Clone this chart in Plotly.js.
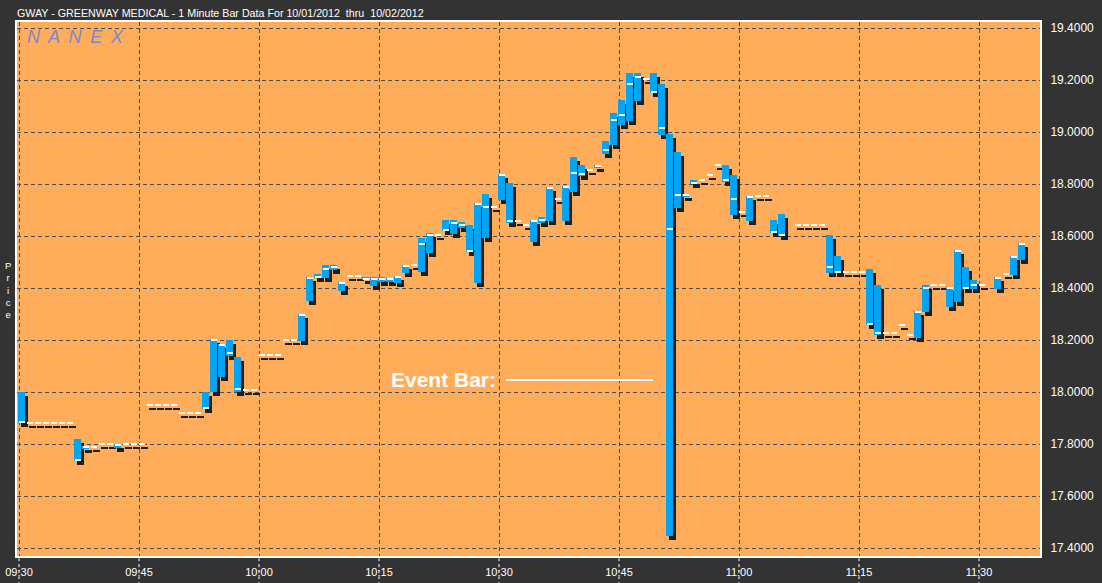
<!DOCTYPE html>
<html>
<head>
<meta charset="utf-8">
<script src="https://cdn.plot.ly/plotly-3.0.1.min.js"></script>
<style>html,body{margin:0;padding:0;background:#333333;}#chart{width:1102px;height:583px;}</style>
</head>
<body>
<div id="chart"></div>
<script>
// ---- Data (minutes after 09:30, 1-minute bars) ----
const minutes = [0,1,2,3,4,5,6,7,8,9,10,11,12,13,14,15,16,17,18,19,20,21,22,23,24,25,26,27,28,29,
  30,31,32,33,34,35,36,37,38,39,40,41,42,43,44,45,46,47,48,49,50,51,52,53,54,55,56,57,58,59,
  60,61,62,63,64,65,66,67,68,69,70,71,72,73,74,75,76,77,78,79,80,81,82,83,84,85,86,87,88,89,
  90,91,92,93,94,95,97,98,99,100,101,102,103,104,105,106,107,108,109,110,111,112,113,114,115,116,117,118,119,120,
  122,123,124,125];
const highs = [18.00,17.88,17.88,17.88,17.88,17.88,17.88,17.82,17.795,17.79,17.80,17.80,17.80,17.80,17.80,17.80,17.95,17.95,17.95,17.95,17.92,17.92,17.92,18.00,18.205,18.185,18.20,18.135,18.01,18.01,
  18.145,18.145,18.145,18.20,18.20,18.30,18.445,18.455,18.49,18.49,18.425,18.448,18.448,18.443,18.443,18.443,18.44,18.447,18.49,18.49,18.593,18.613,18.606,18.663,18.663,18.655,18.643,18.727,18.763,18.713,
  18.838,18.805,18.657,18.644,18.663,18.674,18.789,18.744,18.794,18.905,18.874,18.856,18.875,18.967,19.074,19.124,19.228,19.228,19.206,19.228,19.186,18.993,18.924,18.763,18.816,18.817,18.837,18.875,18.874,18.836,
  18.694,18.756,18.756,18.756,18.663,18.686,18.644,18.644,18.644,18.644,18.605,18.524,18.463,18.463,18.463,18.474,18.413,18.229,18.229,18.26,18.221,18.313,18.413,18.413,18.413,18.405,18.547,18.482,18.432,18.413,
  18.444,18.456,18.525,18.575];
const lows = [17.88,17.88,17.88,17.88,17.88,17.88,17.88,17.735,17.78,17.79,17.80,17.80,17.785,17.80,17.80,17.80,17.95,17.95,17.95,17.95,17.92,17.92,17.92,17.935,18.00,18.06,18.14,18.00,18.01,18.01,
  18.145,18.145,18.145,18.20,18.20,18.197,18.35,18.44,18.44,18.47,18.39,18.448,18.448,18.43,18.41,18.424,18.424,18.42,18.46,18.49,18.464,18.536,18.606,18.62,18.609,18.632,18.541,18.42,18.593,18.713,
  18.74,18.651,18.657,18.644,18.578,18.651,18.659,18.744,18.659,18.77,18.832,18.856,18.862,18.917,18.951,19.028,19.043,19.12,19.206,19.151,18.99,17.448,18.709,18.751,18.801,18.817,18.837,18.875,18.81,18.682,
  18.694,18.659,18.756,18.756,18.613,18.602,18.644,18.644,18.644,18.644,18.459,18.459,18.463,18.463,18.463,18.259,18.22,18.229,18.229,18.26,18.221,18.209,18.309,18.413,18.413,18.328,18.347,18.398,18.398,18.413,
  18.398,18.456,18.451,18.509];
const closes = [17.88,17.88,17.88,17.88,17.88,17.88,17.88,17.74,17.795,17.79,17.80,17.80,17.80,17.80,17.80,17.80,17.95,17.95,17.95,17.95,17.92,17.92,17.92,17.94,18.20,18.185,18.15,18.013,18.01,18.01,
  18.145,18.145,18.145,18.20,18.20,18.30,18.445,18.445,18.475,18.48,18.425,18.448,18.448,18.435,18.434,18.434,18.434,18.447,18.49,18.49,18.571,18.606,18.606,18.625,18.649,18.645,18.544,18.727,18.713,18.713,
  18.838,18.657,18.657,18.644,18.663,18.663,18.789,18.744,18.794,18.844,18.838,18.856,18.875,18.933,19.048,19.067,19.187,19.213,19.206,19.156,19.017,18.628,18.76,18.76,18.806,18.817,18.837,18.875,18.817,18.744,
  18.694,18.756,18.756,18.756,18.617,18.606,18.644,18.644,18.644,18.644,18.481,18.463,18.463,18.463,18.463,18.263,18.229,18.229,18.229,18.26,18.221,18.313,18.402,18.413,18.413,18.402,18.544,18.402,18.413,18.413,
  18.444,18.456,18.525,18.575];
const eventMinute = 81;
const tickMinutes = [0,15,30,45,60,75,90,105,120];
const tickLabels = ['09:30','09:45','10:00','10:15','10:30','10:45','11:00','11:15','11:30'];
const priceTicks = [17.4,17.6,17.8,18.0,18.2,18.4,18.6,18.8,19.0,19.2,19.4];

// ---- Geometry helpers (pixel sizes converted to axis units) ----
const PX_X = 1/8;      // minutes per pixel
const PX_Y = 1/260;    // dollars per pixel
const barW = 7*PX_X, tickW = 6*PX_X;
const barCx = minutes.map(m => m - 1*PX_X + 3.5*PX_X);
const shadowCx = barCx.map(c => c + 3*PX_X);
const tickCx = minutes.map(m => m - 1*PX_X + 4*PX_X);
const rng = highs.map((h,i) => h - lows[i]);
const shadowH = rng.map(r => Math.max(r, 2*PX_Y));
const shadowBase = lows.map((l,i) => l - 4*PX_Y - (rng[i] < 2*PX_Y ? 1*PX_Y : 0));
const tickBase = closes.map((c,i) => {
  if (rng[i] < 2*PX_Y) return c - 1*PX_Y;
  return Math.min(Math.max(c - 1*PX_Y, lows[i]), highs[i] - 2*PX_Y);
});

const common = {type:'bar', hoverinfo:'skip', marker:{line:{width:0}}};
const traces = [
  Object.assign({}, common, {x: shadowCx, y: shadowH, base: shadowBase, width: barW, marker:{color:'#1e1e1e', line:{width:0}}}),
  Object.assign({}, common, {x: barCx, y: rng, base: lows, width: barW, marker:{color:'#03A4F4', line:{width:0}}}),
  Object.assign({}, common, {x: tickCx, y: tickBase.map(()=>2*PX_Y), base: tickBase, width: tickW, marker:{color:'#ffffff', line:{width:0}}})
];

const FONT = 'Arial, "Liberation Sans", sans-serif';
const shapes = tickMinutes.map(t => ({type:'line', xref:'x', yref:'paper', x0:t, x1:t, y0:-0.004, y1:-27/534,
  line:{color:'#ffffff', width:1, dash:'3px,3px'}, layer:'above'}));
shapes.push({type:'line', xref:'x', yref:'y', x0: eventMinute - 20.1, x1: eventMinute - 1.75, y0: 18.047, y1: 18.047,
  line:{color:'#ffffff', width:2}});

const annotations = [
  {text:'<i>N\u2009 A\u2009 N\u2009 E\u2009 X</i>', xref:'paper', yref:'paper', x:8/1023, y:1-15/534, xanchor:'left', yanchor:'middle',
    showarrow:false, font:{family:FONT, size:18, color:'#7f87c9'}},
  {text:'<b>Event Bar:</b>', xref:'x', yref:'y', x: eventMinute - 34.7, y: 18.047, xanchor:'left', yanchor:'middle',
    showarrow:false, font:{family:FONT, size:21, color:'#ffffff'}},
  {text:'P<br>r<br>i<br>c<br>e', xref:'paper', yref:'paper', x:-9/1023, y:(556-290)/534, xanchor:'center', yanchor:'middle',
    showarrow:false, font:{family:FONT, size:9.5, color:'#ffffff'}}
];

const layout = {
  width:1102, height:583,
  margin:{l:17, r:62, t:22, b:27},
  paper_bgcolor:'#333333', plot_bgcolor:'#FFAD5A',
  barmode:'overlay', showlegend:false, bargap:0,
  font:{family:FONT, color:'#ffffff'},
  title:{text:'GWAY - GREENWAY MEDICAL - 1 Minute Bar Data For 10/01/2012\u00a0 thru\u00a0 10/02/2012',
    xref:'paper', x:0, xanchor:'left', yref:'container', y:1-13/583, yanchor:'middle',
    font:{family:FONT, size:10.7, color:'#ffffff'}},
  xaxis:{range:[-0.25, 127.625], tickmode:'array', tickvals:tickMinutes, ticktext:tickLabels,
    showgrid:true, gridcolor:'#484c54', griddash:'4px,3px', gridwidth:1, zeroline:false,
    showline:true, linecolor:'#ffffff', linewidth:2, mirror:true,
    ticks:'outside', ticklen:5, tickcolor:'rgba(0,0,0,0)',
    tickfont:{family:FONT, size:11, color:'#ffffff'}, fixedrange:true},
  yaxis:{range:[17.370, 19.424], side:'right', tickmode:'array', tickvals:priceTicks, tickformat:'.4f', tickprefix:'- ',
    showgrid:true, gridcolor:'#484c54', griddash:'4px,3px', gridwidth:1, zeroline:false,
    showline:true, linecolor:'#ffffff', linewidth:2, mirror:true, ticks:'', ticklabelstandoff:6,
    tickfont:{family:FONT, size:12, color:'#ffffff'}, fixedrange:true},
  shapes: shapes,
  annotations: annotations
};

Plotly.newPlot('chart', traces, layout, {displayModeBar:false, staticPlot:true});
</script>
</body>
</html>
